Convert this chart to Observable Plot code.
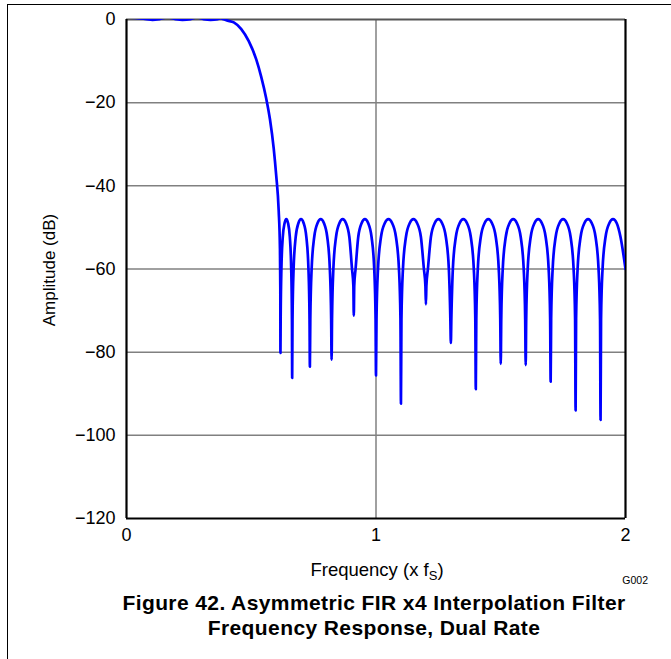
<!DOCTYPE html>
<html>
<head>
<meta charset="utf-8">
<script src="https://cdn.jsdelivr.net/npm/d3@7"></script>
<script src="https://cdn.jsdelivr.net/npm/@observablehq/plot@0.6"></script>
<style>
  html, body { margin: 0; padding: 0; background: #fff; }
  #page { position: relative; width: 671px; height: 659px; background: #fff; overflow: hidden;
          font-family: "Liberation Sans", Arial, Helvetica, sans-serif; }
  #border { position: absolute; left: 7px; top: 4px; width: 670px; height: 660px;
            border-top: 1.5px solid #000; border-left: 1.5px solid #000; }
  #chart { position: absolute; left: 0; top: 0; }
  #title { position: absolute; left: 0; width: 748px; top: 590px; text-align: center;
           font-weight: bold; font-size: 21px; line-height: 25px; letter-spacing: 0.4px; color: #000; }
</style>
</head>
<body>
<div id="page">
  <div id="border"></div>
  <div id="chart"></div>
  <div id="title">Figure 42. Asymmetric FIR x4 Interpolation Filter<br>Frequency Response, Dual Rate</div>
</div>
<script>
// Frequency (x fS) and amplitude (dB)
const freq = [
  0, 0.08, 0.104, 0.132, 0.164, 0.196, 0.224, 0.257, 0.281, 0.309, 0.337, 0.365, 0.377, 0.39,
  0.40, 0.43, 0.46, 0.49, 0.52, 0.54, 0.56, 0.575, 0.59, 0.60, 0.61, 0.615, 0.6165, 0.617,
  0.6179, 0.6208, 0.6264, 0.6335, 0.6405, 0.6476, 0.6546, 0.6602, 0.6631, 0.664,
  0.6654, 0.6697, 0.6782, 0.6889, 0.6995, 0.7102, 0.7208, 0.7293, 0.7336, 0.735,
  0.7367, 0.7420, 0.7524, 0.7655, 0.7785, 0.7916, 0.8046, 0.8150, 0.8203, 0.822,
  0.8238, 0.8291, 0.8398, 0.8532, 0.8665, 0.8799, 0.8932, 0.9039, 0.9093, 0.911,
  0.9128, 0.9181, 0.9288, 0.9422, 0.9555, 0.9689, 0.9822, 0.9929, 0.9983, 1.0,
  1.002, 1.008, 1.02, 1.035, 1.05, 1.065, 1.08, 1.092, 1.098, 1.1,
  1.102, 1.108, 1.12, 1.135, 1.15, 1.165, 1.18, 1.192, 1.198, 1.2,
  1.202, 1.208, 1.22, 1.235, 1.25, 1.265, 1.28, 1.292, 1.298, 1.3,
  1.302, 1.308, 1.32, 1.335, 1.35, 1.365, 1.38, 1.392, 1.398, 1.4,
  1.402, 1.408, 1.42, 1.435, 1.45, 1.465, 1.48, 1.492, 1.498, 1.5,
  1.502, 1.508, 1.52, 1.535, 1.55, 1.565, 1.58, 1.592, 1.598, 1.6,
  1.602, 1.608, 1.62, 1.635, 1.65, 1.665, 1.68, 1.692, 1.698, 1.7,
  1.702, 1.708, 1.72, 1.735, 1.75, 1.765, 1.78, 1.792, 1.798, 1.8,
  1.802, 1.808, 1.82, 1.835, 1.85, 1.865, 1.88, 1.892, 1.898, 1.9,
  1.902, 1.908, 1.92, 1.935, 1.95, 1.965, 1.98, 2.0
];
const amp = [
  0.5, 0.1, -0.08, 0.1, 0.5, 0.1, -0.08, 0.1, 0.5, 0.1, -0.08, 0.1, 0.3, 0.05,
  -0.2, -0.7, -2.3, -5.2, -9.6, -13.8, -19.0, -24.0, -31.0, -37.5, -46, -55, -65, -80.2,
  -72, -60, -52.3, -49, -48, -49, -52.3, -60, -72, -86.2,
  -72, -60, -52.3, -49, -48, -49, -52.3, -60, -72, -83.5,
  -72, -60, -52.3, -49, -48, -49, -52.3, -60, -72, -81.8,
  -72, -60, -52.3, -49, -48, -49, -52.3, -60, -64, -71.2,
  -64, -60, -52.3, -49, -48, -49, -52.3, -60, -72, -85.6,
  -72, -60, -52.3, -49, -48, -49, -52.3, -60, -72, -92.4,
  -72, -60, -52.3, -49, -48, -49, -52.3, -60, -64, -68.5,
  -64, -60, -52.3, -49, -48, -49, -52.3, -60, -72, -77.8,
  -72, -60, -52.3, -49, -48, -49, -52.3, -60, -72, -88.9,
  -72, -60, -52.3, -49, -48, -49, -52.3, -60, -72, -82.8,
  -72, -60, -52.3, -49, -48, -49, -52.3, -60, -72, -83.1,
  -72, -60, -52.3, -49, -48, -49, -52.3, -60, -72, -87.1,
  -72, -60, -52.3, -49, -48, -49, -52.3, -60, -72, -94.0,
  -72, -60, -52.3, -49, -48, -49, -52.3, -60, -72, -96.3,
  -72, -60, -52.3, -49, -48, -49, -52.3, -60
];
const xTicks = [0, 1, 2];
const yTicks = [0, -20, -40, -60, -80, -100, -120];
const xGrid = [1];
const yGrid = [-20, -40, -60, -80, -100];

const data = freq.map((f, i) => ({f, db: amp[i]}));
const fmtY = d => (d < 0 ? "\u2212" + Math.abs(d) : String(d));

const chart = Plot.plot({
  width: 671,
  height: 590,
  marginLeft: 126,
  marginRight: 46,
  marginTop: 19,
  marginBottom: 72,
  style: {fontFamily: "'Liberation Sans', Arial, Helvetica, sans-serif", fontSize: "18px", background: "transparent", color: "#000", overflow: "visible"},
  x: {domain: [0, 2]},
  y: {domain: [-120, 0]},
  marks: [
    Plot.ruleX(xGrid, {stroke: "#808080", strokeWidth: 1.5}),
    Plot.ruleY(yGrid, {stroke: "#808080", strokeWidth: 1.5}),
    Plot.ruleY([0], {stroke: "#555", strokeWidth: 2}),
    Plot.ruleX([0, 2], {stroke: "#000", strokeWidth: 2.2}),
    Plot.ruleY([-120], {stroke: "#000", strokeWidth: 2.2}),
    Plot.line(data, {x: "f", y: "db", stroke: "#0000ff", strokeWidth: 2.7, curve: "monotone-x", clip: true}),
    Plot.axisX(xTicks, {tickSize: 0, tickPadding: 10, tickFormat: d => String(d), label: null, fontSize: 18}),
    Plot.axisY(yTicks, {tickSize: 0, tickPadding: 11, tickFormat: fmtY, label: null, fontSize: 18})
  ]
});
document.getElementById("chart").appendChild(chart);

const svg = d3.select(chart);
svg.append("text")
  .attr("transform", "translate(55,270) rotate(-90)")
  .attr("text-anchor", "middle")
  .attr("font-size", 17)
  .attr("fill", "#000")
  .text("Amplitude (dB)");
const xl = svg.append("text")
  .attr("x", 377).attr("y", 576)
  .attr("text-anchor", "middle")
  .attr("font-size", 18.5)
  .attr("fill", "#000");
xl.append("tspan").text("Frequency (x f");
xl.append("tspan").attr("font-size", 13).attr("dy", 4).text("S");
xl.append("tspan").attr("dy", -4).text(")");
svg.append("text")
  .attr("x", 648).attr("y", 584)
  .attr("text-anchor", "end")
  .attr("font-size", 10.5)
  .attr("fill", "#000")
  .text("G002");
</script>
</body>
</html>
